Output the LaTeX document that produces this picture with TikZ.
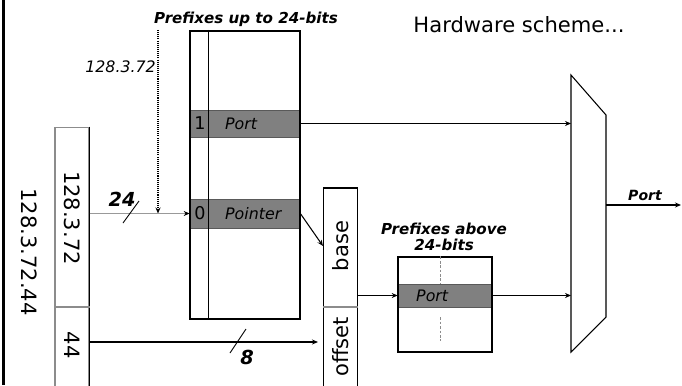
\documentclass[tikz,border=0pt]{standalone}
\usepackage{fontspec}
\setmainfont{DejaVu Sans}
\usetikzlibrary{arrows.meta,positioning,calc}

\begin{document}
\begin{tikzpicture}[x=0.02cm, y=-0.02cm,
  regbox/.style={draw, line width=0.6pt, minimum width=0.68cm, inner sep=0pt},
  bigtable/.style={draw, line width=1.4pt, minimum width=2.2cm,
    minimum height=5.76cm, inner sep=0pt},
  smalltable/.style={draw, line width=0.6pt, minimum width=1.88cm,
    minimum height=1.9cm, inner sep=0pt},
  entry/.style={fill=black!50, draw=black!65, line width=0.4pt, inner sep=0pt},
  vtext/.style={rotate=-90, font=\fontsize{12}{12}\selectfont},
  utext/.style={rotate=90, font=\fontsize{12}{12}\selectfont},
  field/.style={anchor=west, font=\itshape\fontsize{9}{9}\selectfont},
  bit/.style={font=\fontsize{10}{10}\selectfont},
  heading/.style={align=center, font=\bfseries\itshape\fontsize{8.6}{9.5}\selectfont},
  buslabel/.style={font=\bfseries\itshape\fontsize{11}{11}\selectfont},
  arrow/.style={-{Stealth[length=1.2mm, width=1mm]}, line width=0.6pt},
  greyarrow/.style={-{Stealth[length=1.2mm, width=1mm, black]},
    line width=0.6pt, draw=black!40},
  dotarrow/.style={-{Stealth[length=1.2mm, width=1mm]}, line width=0.6pt,
    dash pattern=on 0.6pt off 0.6pt},
  dashline/.style={draw=black!45, line width=0.4pt, dash pattern=on 1.5pt off 1pt}
]
  \clip (0,0) rectangle (682,385);

  % Frame
  \coordinate (frameTop) at (3.5,0);
  \coordinate (frameBot) at (3.5,385);
  \draw[line width=1.3pt] (frameTop) -- (frameBot);

  % Titles
  \node[heading] (title24) at (246,19) {Prefixes up to 24-bits};
  \node[font=\fontsize{12}{12}\selectfont] (scheme) at (519,25) {Hardware scheme...};
  \node[heading] (titleAbove) at (444,237) {Prefixes above\\24-bits};

  % Destination address
  \node[vtext] (fullAddr) at (29,252) {128.3.72.44};
  \node[regbox, draw=black!45, minimum height=5.46cm] (addr) at (72,263.5) {};
  \draw (addr.north east) -- (addr.south east);
  \coordinate (addrCut) at (72,307);
  \draw[black!45, line width=0.6pt] (addr.west |- addrCut) -- (addr.east |- addrCut);
  \node[vtext] (ipHigh) at (72,218) {128.3.72};
  \node[vtext] (ipLow) at (72,345) {44};

  % First table
  \node[entry, minimum width=2.2cm, minimum height=0.54cm] (row1) at (245,123.5) {};
  \node[entry, minimum width=2.2cm, minimum height=0.58cm] (row0) at (245,213.5) {};
  \node[bigtable] (tbl) at (245,175) {};
  \draw[line width=0.6pt] ([xshift=0.4cm]tbl.north west) -- ([xshift=0.4cm]tbl.south west);
  \node[bit] (bit1) at (200,123.5) {1};
  \node[field] (port1) at (219,123.5) {Port};
  \node[bit] (bit0) at (200,213.5) {0};
  \node[field] (pointer) at (219,213.5) {Pointer};

  % Lookup input
  \node[anchor=east, font=\itshape\fontsize{9}{9}\selectfont] (dstLabel) at (162,67) {128.3.72};
  \coordinate (dTop) at (158,30);
  \draw[dotarrow] (dTop) -- (dTop |- row0.west);
  \draw[greyarrow] (addr.east |- row0.west) -- (row0.west);
  \coordinate (bus24) at (131,212);
  \draw[line width=0.5pt] ([shift={(-8,11)}]bus24) -- ([shift={(8,-11)}]bus24);
  \node[buslabel] (w24) at (122,199) {24};

  % Base / offset register
  \node[regbox, minimum height=4.24cm] (regs) at (340.5,294) {};
  \coordinate (regsCut) at (340.5,307);
  \draw[black!45, line width=0.6pt] (regs.west |- regsCut) -- (regs.east |- regsCut);
  \node[utext] (base) at (340.5,246) {base};
  \node[utext] (offset) at (340.5,347) {offset};
  \draw[arrow] (row0.east) -- (regs.west |- base);
  \draw[arrow, shorten >=0.1cm] (addr.east |- 0,342) -- (regs.west |- 0,342);
  \coordinate (bus8) at (238,341);
  \draw[line width=0.5pt] ([shift={(-8,12)}]bus8) -- ([shift={(8,-12)}]bus8);
  \node[buslabel] (w8) at (247,357) {8};

  % Second table
  \node[entry, minimum width=1.88cm, minimum height=0.46cm] (port2row) at (445,295.5) {};
  \node[smalltable] (tbl2) at (445,304.5) {};
  \draw[dashline] ([xshift=-0.1cm]tbl2.north) -- ([xshift=-0.1cm]port2row.north);
  \draw[dashline] ([xshift=-0.1cm, yshift=-0.2cm]port2row.south) -- ([xshift=-0.1cm, yshift=0.24cm]tbl2.south);
  \node[field] (port2) at (410,295.5) {Port};
  \draw[arrow] (regs.east |- port2row.west) -- (port2row.west);

  % Multiplexer
  \coordinate (muxA) at (571,75);
  \coordinate (muxB) at (606,115);
  \coordinate (muxC) at (606,317);
  \coordinate (muxD) at (571,352);
  \draw[line width=0.6pt] (muxA) -- (muxB) -- (muxC) -- (muxD) -- cycle;
  \draw[arrow] (row1.east) -- (row1.east -| muxA);
  \draw[arrow] (port2row.east) -- (port2row.east -| muxA);
  \coordinate (outEnd) at (681,205);
  \draw[arrow] (muxB |- outEnd) -- (outEnd);
  \node[buslabel, font=\bfseries\itshape\fontsize{8}{8}\selectfont] (outPort) at (645,195) {Port};
\end{tikzpicture}
\end{document}
